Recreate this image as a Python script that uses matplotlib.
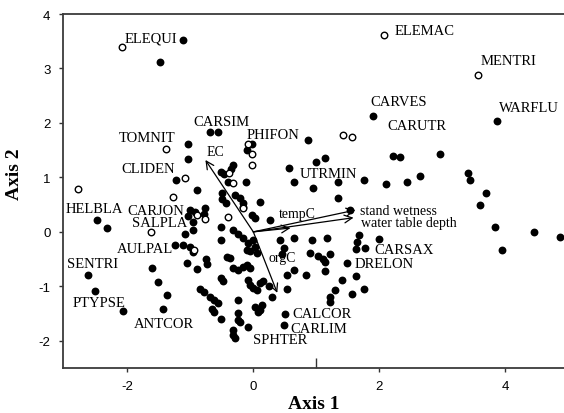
import matplotlib
matplotlib.use("Agg")
import matplotlib.pyplot as plt

# ---- data: site scores (filled) ----
filled_x = [-1.11, -1.48, -0.68, -0.56, -1.03, -1.03, -1.22, -0.90, -0.02, -0.10,
            -0.11, -0.52, -0.46, -0.32, -0.35, -0.40, -0.49, -0.49, -0.44, -0.29,
            -0.21, -0.16, -0.17, 0.11, -0.02, 0.03, 0.27, -0.92, -0.76, -0.79,
            -1.00, -1.03, -0.95, -0.95, -1.08, -1.24, -1.11, -1.00, -0.52, -0.32,
            -0.25, -0.52, -0.16, -0.08, 0.00, 0.03, -0.05, 0.06, 0.43, 0.48,
            0.46, 0.65, 0.93, 1.17, 1.67, 1.65, 1.63, 1.78, 2.00, 0.90,
            1.03, 1.10, 1.13, 1.21, 1.49, 0.65, 0.54, 0.83, 1.14, 0.54,
            1.63, 1.41, 1.30, 1.76, 1.57, 1.22, 1.21, 0.51, 0.49, 0.30,
            1.54, 0.86, 2.21, 2.33, 2.97, 1.00, 1.14, 0.57, 0.65, 0.94,
            1.35, 1.75, 2.10, 2.44, 2.65, 3.40, 3.44, 3.70, 3.59, 3.84,
            4.46, 4.87, 3.95, 1.35, 1.90, 3.86, -2.48, -2.32, -2.63, -2.51,
            -2.06, -1.60, -1.52, -1.37, -1.44, -1.05, -0.89, -0.75, -0.73, -0.84,
            -0.79, -0.68, -0.62, -0.56, -0.65, -0.63, -0.52, -0.52, -0.48, -0.41,
            -0.37, -0.32, -0.25, -0.17, -0.10, -0.05, -0.08, -0.05, 0.00, 0.06,
            0.11, 0.16, -0.25, -0.25, -0.24, -0.21, -0.32, -0.32, -0.29, -0.08,
            0.03, 0.08, 0.14, 0.11, 0.25, -0.95, -0.10]
filled_y = [3.52, 3.12, 1.83, 1.83, 1.61, 1.34, 0.95, 0.77, 1.61, 1.50,
            0.92, 1.10, 1.06, 1.23, 1.16, 0.92, 0.72, 0.61, 0.53, 0.68,
            0.62, 0.53, 0.46, 0.55, 0.31, 0.26, 0.22, 0.37, 0.44, 0.33,
            0.40, 0.29, 0.18, 0.04, -0.04, -0.24, -0.24, -0.28, 0.09, 0.04,
            -0.04, -0.15, -0.11, -0.20, -0.15, -0.28, -0.35, -0.39, -0.15, -0.29,
            -0.40, -0.12, -0.15, -0.11, -0.06, -0.18, -0.31, -0.29, -0.13, -0.39,
            -0.44, -0.50, -0.55, -0.40, -0.57, -0.70, -0.79, -0.79, -0.72, -1.05,
            -0.81, -0.88, -1.06, -1.05, -1.14, -1.19, -1.28, -1.50, -1.71, -1.19,
            0.40, 1.69, 1.39, 1.38, 1.43, 1.28, 1.36, 1.17, 0.92, 0.81,
            0.92, 0.95, 0.88, 0.92, 1.03, 1.08, 0.95, 0.72, 0.50, 0.09,
            0.00, -0.09, -0.33, 0.62, 2.13, 2.04, 0.22, 0.07, -0.79, -1.08,
            -1.45, -0.66, -0.92, -1.16, -1.41, -0.57, -0.68, -0.50, -0.59, -1.05,
            -1.10, -1.19, -1.25, -1.30, -1.41, -1.47, -1.60, -0.84, -0.90, -0.46,
            -0.48, -0.66, -0.70, -0.64, -0.61, -0.66, -0.88, -0.97, -1.03, -1.06,
            -0.94, -0.90, -1.25, -1.49, -1.61, -1.65, -1.80, -1.89, -1.94, -1.74,
            -1.38, -1.47, -1.34, -1.43, -1.00, -0.37, -0.33]

# ---- data: species scores (open) ----
open_x = [-2.08, 2.08, 3.57, -1.38, -1.08, -2.78, -1.27, -0.08, -0.02, -0.02,
          1.43, 1.57, -0.38, -0.33, -0.16, -0.40, -0.89, -0.76, -1.62, -0.94]
open_y = [3.39, 3.61, 2.88, 1.52, 0.99, 0.79, 0.64, 1.61, 1.43, 1.23,
          1.78, 1.74, 1.08, 0.90, 0.44, 0.28, 0.31, 0.24, 0.00, -0.33]

# ---- data: environmental vectors ----
env_names = ["EC", "tempC", "stand wetness", "water table depth", "orgC"]
env_x = [-0.76, 0.59, 1.62, 1.59, 0.38]
env_y = [1.32, 0.07, 0.40, 0.26, -1.12]
env_label_x = [-0.75, 0.40, 1.70, 1.71, 0.24]
env_label_y = [1.47, 0.33, 0.39, 0.17, -0.47]

# ---- data: species labels ----
sp_names = ["ELEQUI", "ELEMAC", "MENTRI", "CARVES", "WARFLU", "CARUTR", "CARSIM",
            "PHIFON", "TOMNIT", "CLIDEN", "UTRMIN", "HELBLA", "CARJON", "SALPLA",
            "AULPAL", "SENTRI", "PTYPSE", "ANTCOR", "SPHTER", "CALCOR", "CARLIM",
            "DRELON", "CARSAX"]
sp_x = [-2.05, 2.24, 3.60, 1.86, 3.90, 2.13, -0.95,
        -0.10, -2.14, -2.10, 0.73, -2.98, -2.00, -1.92,
        -2.16, -2.95, -2.86, -1.90, 0.00, 0.62, 0.59,
        1.60, 1.92]
sp_y = [3.56, 3.69, 3.14, 2.39, 2.29, 1.95, 2.02,
        1.78, 1.74, 1.17, 1.08, 0.42, 0.40, 0.18,
        -0.30, -0.59, -1.30, -1.69, -1.98, -1.50, -1.78,
        -0.59, -0.33]

x_ticks = [-2, 0, 2, 4]
y_ticks = [-2, -1, 0, 1, 2, 3, 4]

fig = plt.figure(figsize=(5.64, 4.14), dpi=100)
ax = fig.add_axes([0.1117, 0.1087, 0.8883, 0.855])
ax.set_xlim(-3.02, 4.93)
ax.set_ylim(-2.5, 4.0)

ax.scatter(filled_x, filled_y, s=32, c="black", marker="o", linewidths=0, zorder=3)
ax.scatter(open_x, open_y, s=22, facecolors="white", edgecolors="black",
           linewidths=1.0, marker="o", zorder=4)

for nx, ny, lx, ly, name in zip(env_x, env_y, env_label_x, env_label_y, env_names):
    ax.annotate("", xy=(nx, ny), xytext=(0, 0),
                arrowprops=dict(arrowstyle="->", lw=0.9, color="black",
                                mutation_scale=14, shrinkA=0, shrinkB=0),
                zorder=5)
    ax.text(lx, ly, name, fontsize=10, family="Liberation Serif",
            ha="left", va="center", zorder=6)

for name, lx, ly in zip(sp_names, sp_x, sp_y):
    ax.text(lx, ly, name, fontsize=10.5, family="Liberation Serif",
            ha="left", va="center", zorder=6)

ax.set_xticks(x_ticks)
ax.set_yticks(y_ticks)
ax.set_xticklabels([str(t) for t in x_ticks], family="Liberation Sans", fontsize=9.5)
ax.set_yticklabels([str(t) for t in y_ticks], family="Liberation Sans", fontsize=9.5)
ax.set_xticks([1], minor=True)
ax.tick_params(axis="both", which="major", direction="out", length=3,
               width=1.0, color="#333333", pad=6)
ax.tick_params(axis="x", which="minor", direction="in", length=7, width=1.0,
               color="#333333")

for side in ["left", "bottom", "top"]:
    ax.spines[side].set_color("#3a3a3a")
    ax.spines[side].set_linewidth(1.3)
ax.spines["right"].set_visible(False)

ax.set_xlabel("Axis 1", family="Liberation Serif", fontsize=14, fontweight="bold")
ax.set_ylabel("Axis 2", family="Liberation Serif", fontsize=14, fontweight="bold")
ax.xaxis.set_label_coords(0.5, -0.075)
ax.yaxis.set_label_coords(-0.080, 0.55)

fig.savefig("out.png", dpi=100)
